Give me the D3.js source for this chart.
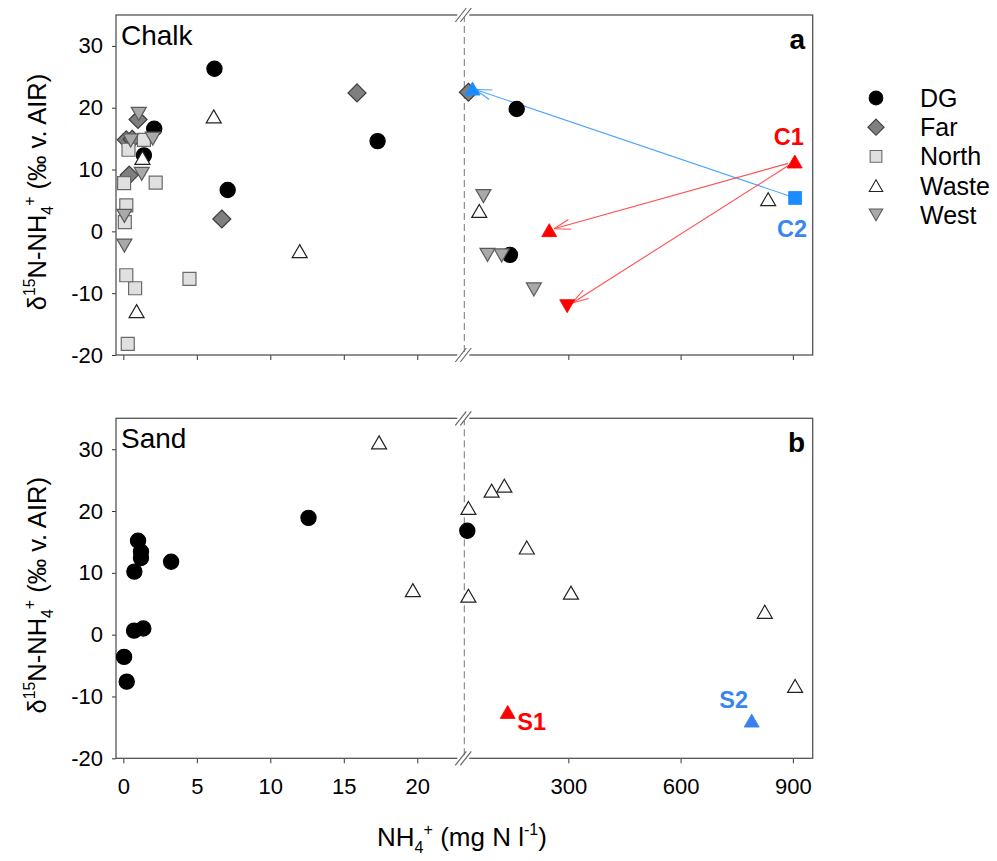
<!DOCTYPE html>
<html><head><meta charset="utf-8">
<script src="https://cdn.jsdelivr.net/npm/d3@7/dist/d3.min.js"></script>
<style>body{margin:0;background:#fff}svg{display:block;font-family:"Liberation Sans",Arial,sans-serif}</style>
</head><body><svg id="c" width="997" height="861"></svg>
<script>
// ---------- data ----------
const groups = ["DG", "Far", "North", "Waste", "West"];
const xTicksLow = [0, 5, 10, 15, 20];
const xTicksHigh = [300, 600, 900];
const yTicks = [-20, -10, 0, 10, 20, 30];

const chalkDG = [[6.2,26.3],[2.1,16.6],[1.4,12.3],[7.1,6.7],[17.3,14.6],[162,19.8],[144,-3.8]];
const chalkFar = [[15.9,22.4],[6.7,2.0],[1.0,18.1],[0.4,9.1],[0.2,14.8],[0.6,14.9],[33,22.5]];
const chalkNorth = [[0.3,-18.2],[0.8,-9.2],[0.2,-7.1],[4.5,-7.7],[0.1,1.5],[0.2,4.2],[0.05,7.8],[2.2,7.9],[0.35,13.2],[1.4,14.8]];
const chalkWaste = [[6.15,18.6],[12.0,-3.2],[0.9,-12.9],[1.3,11.9],[62,3.3],[834,5.2]];
const chalkWest = [[1.05,19.0],[2.0,15.0],[0.5,14.7],[1.25,9.3],[0.07,2.5],[0.07,-2.3],[73,5.7],[84,-3.8],[122,-3.9],[208,-9.4]];
const chalkC1 = [905, 11.3];
const chalkC1up = [249, 0.2];
const chalkC1down = [297, -12.1];
const chalkC2 = [906, 5.4];
const chalkC2tri = [44, 23.1];

const sandDG = [[12.6,18.9],[1.0,15.2],[1.2,13.4],[1.2,12.4],[0.75,10.2],[3.25,11.8],[0.73,0.65],[1.36,1.0],[0.05,-3.6],[0.23,-7.6],[30,16.8]];
const sandWaste = [[17.4,31.1],[19.7,7.2],[33,20.5],[33,6.3],[95,23.3],[129,24.1],[189,14.1],[307,6.8],[825,3.7],[906,-8.3]];
const sandS1 = [138, -12.5];
const sandS2 = [790, -13.9];

// ---------- layout ----------
const svg = d3.select("#c");
const L = 116, R = 812.7;
const panels = [{top:15, bottom:355, name:"Chalk", tag:"a"}, {top:418.3, bottom:758.3, name:"Sand", tag:"b"}];
const xLow = d3.scaleLinear().domain([-0.5, 23.2]).range([L, 464.3]);
const xHigh = d3.scaleLinear().domain([22, 953]).range([464.3, R]);
const breakX = xLow(23.2);
const X = v => v <= 23 ? xLow(v) : xHigh(v);

const styles = {
  DG:{shape:"circle", fill:"#000", stroke:"#000"},
  Far:{shape:"diamond", fill:"#7f7f7f", stroke:"#3c3c3c"},
  North:{shape:"square", fill:"#e0e0e0", stroke:"#6a6a6a"},
  Waste:{shape:"up", fill:"#fff", stroke:"#222"},
  West:{shape:"down", fill:"#a9a9a9", stroke:"#5a5a5a"}
};
function shape(type){
  const r=7.6, s=13, d=9, w=15, h=13;
  switch(type){
    case "circle": return `M${-r},0A${r},${r} 0 1,0 ${r},0A${r},${r} 0 1,0 ${-r},0Z`;
    case "square": return `M${-s/2},${-s/2}h${s}v${s}h${-s}Z`;
    case "diamond": return `M0,${-d}L${d},0L0,${d}L${-d},0Z`;
    case "up": return `M0,${-h/2}L${w/2},${h/2}L${-w/2},${h/2}Z`;
    case "down": return `M0,${h/2}L${w/2},${-h/2}L${-w/2},${-h/2}Z`;
  }
}
function rich(t, parts, fs){
  let cur=0;
  parts.forEach(([s,k])=>{
    const target = k==="sup" ? -0.42*fs : k==="sub" ? 0.28*fs : 0;
    t.append("tspan").attr("dy", target-cur).attr("font-size", k==="n"?fs:fs*0.62).text(s);
    cur=target;
  });
}

const RED = "#ff0000", BLUE = "#1a8cff";

panels.forEach((p, i) => {
  const y = d3.scaleLinear().domain([-20, 35]).range([p.bottom, p.top]);
  p.y = y;
  const g = svg.append("g");
  // y axis
  const ya = g.append("g").attr("transform", `translate(${L},0)`)
    .call(d3.axisLeft(y).tickValues(yTicks).tickSize(4).tickPadding(9).tickFormat(d => String(d)));
  ya.select(".domain").remove();
  ya.selectAll("line").attr("stroke","#333");
  ya.selectAll("text").attr("font-size",22).attr("fill","#000").attr("font-family","Liberation Sans, Arial");
  // x axes
  [[xLow, xTicksLow],[xHigh, xTicksHigh]].forEach(([sc, tv]) => {
    const xa = g.append("g").attr("transform", `translate(0,${p.bottom})`)
      .call(d3.axisBottom(sc).tickValues(tv).tickSize(5).tickPadding(15).tickFormat(d => String(d)));
    xa.select(".domain").remove();
    xa.selectAll("line").attr("stroke","#333");
    xa.selectAll("text").attr("font-size",22).attr("fill","#000").attr("font-family","Liberation Sans, Arial")
      .style("display", i===1 ? null : "none");
  });
  // frame
  g.append("rect").attr("x",L).attr("y",p.top).attr("width",R-L).attr("height",p.bottom-p.top)
    .attr("fill","none").attr("stroke","#555").attr("stroke-width",1.3);
  // dashed break line
  g.append("line").attr("x1",breakX).attr("x2",breakX).attr("y1",p.top).attr("y2",p.bottom)
    .attr("stroke","#777").attr("stroke-width",1).attr("stroke-dasharray","7,4");
  // break marks
  [p.top, p.bottom].forEach(yy => {
    g.append("rect").attr("x",breakX-7).attr("y",yy-2).attr("width",12).attr("height",4).attr("fill","#fff");
    [-3, 2].forEach(o => {
      g.append("line").attr("x1",breakX+o-6).attr("y1",yy+7).attr("x2",breakX+o+5).attr("y2",yy-7)
        .attr("stroke","#666").attr("stroke-width",1.2);
    });
  });
  // panel labels
  g.append("text").attr("x",121).attr("y",p.top+30).attr("font-size",28).text(p.name);
  g.append("text").attr("x",805).attr("y",p.top+34).attr("text-anchor","end").attr("font-size",28)
    .attr("font-weight","bold").text(p.tag);
  // y title
  const yt = g.append("text").attr("text-anchor","middle")
    .attr("transform", `translate(46,${(p.top+p.bottom)/2+7}) rotate(-90)`);
  rich(yt, [["δ","n"],["15","sup"],["N-NH","n"],["4","sub"],["+","sup"],[" (‰ v. AIR)","n"]], 25.5);
});

// x title
const xt = svg.append("text").attr("x",462).attr("y",846).attr("text-anchor","middle");
rich(xt, [["NH","n"],["4","sub"],["+","sup"],[" (mg N l","n"],["-1","sup"],[")","n"]], 26);

// arrows (chalk)
function arrow(y, from, to, color, s0, s1){
  const x1=X(from[0]), y1=y(from[1]), x2=X(to[0]), y2=y(to[1]);
  const a=Math.atan2(y2-y1,x2-x1), len=Math.hypot(x2-x1,y2-y1);
  const sx=x1+Math.cos(a)*s0, sy=y1+Math.sin(a)*s0, ex=x1+Math.cos(a)*(len-s1), ey=y1+Math.sin(a)*(len-s1);
  svg.append("line").attr("x1",sx).attr("y1",sy).attr("x2",ex).attr("y2",ey).attr("stroke",color).attr("stroke-width",1.1);
  [0.3,-0.3].forEach(da=>{
    svg.append("line").attr("x1",ex).attr("y1",ey)
      .attr("x2",ex-Math.cos(a+da)*17).attr("y2",ey-Math.sin(a+da)*17)
      .attr("stroke",color).attr("stroke-width",1.1);
  });
}
const ya = panels[0].y, yb = panels[1].y;
arrow(ya, chalkC2, chalkC2tri, "#4aa3ff", 6, 3);
arrow(ya, chalkC1, chalkC1up, "#ff5050", 7, 5);
arrow(ya, chalkC1, chalkC1down, "#ff5050", 7, 6);

function drawSeries(y, data, grp){
  const st = styles[grp];
  svg.append("g").selectAll("path").data(data).join("path")
    .attr("d", shape(st.shape)).attr("transform", d=>`translate(${X(d[0])},${y(d[1])})`)
    .attr("fill", st.fill).attr("stroke", st.stroke).attr("stroke-width", 1.2);
}
drawSeries(ya, chalkDG, "DG");
drawSeries(ya, chalkFar, "Far");
drawSeries(ya, chalkNorth, "North");
drawSeries(ya, chalkWaste, "Waste");
drawSeries(ya, chalkWest, "West");
drawSeries(yb, sandDG, "DG");
drawSeries(yb, sandWaste, "Waste");

function special(y, pt, type, color){
  svg.append("path").attr("d", shape(type)).attr("transform", `translate(${X(pt[0])},${y(pt[1])})`)
    .attr("fill", color).attr("stroke", color).attr("stroke-width", 0.8);
}
special(ya, chalkC1, "up", RED);
special(ya, chalkC1up, "up", RED);
special(ya, chalkC1down, "down", RED);
special(ya, chalkC2, "square", BLUE);
special(ya, chalkC2tri, "up", BLUE);
special(yb, sandS1, "up", RED);
special(yb, sandS2, "up", "#3b80f0");

function lab(x, y, t, color){
  svg.append("text").attr("x",x).attr("y",y).attr("text-anchor","middle").attr("font-size",23.5)
    .attr("font-weight","bold").attr("fill",color).text(t);
}
lab(X(chalkC1[0])-6, ya(chalkC1[1])-17, "C1", RED);
lab(X(chalkC2[0])-3, ya(chalkC2[1])+39, "C2", "#3a86f0");
lab(X(sandS1[0])+24, yb(sandS1[1])+18, "S1", RED);
lab(X(sandS2[0])-18, yb(sandS2[1])-13, "S2", "#3a86f0");

// legend
const lg = svg.append("g");
groups.forEach((gname, i) => {
  const yy = 98 + i*29.2, st = styles[gname];
  lg.append("path").attr("d", shape(st.shape)).attr("transform", `translate(876,${yy}) scale(0.9)`)
    .attr("fill", st.fill).attr("stroke", st.stroke).attr("stroke-width", 1.2);
  lg.append("text").attr("x",920).attr("y",yy+9).attr("font-size",25).text(gname);
});
</script></body></html>
